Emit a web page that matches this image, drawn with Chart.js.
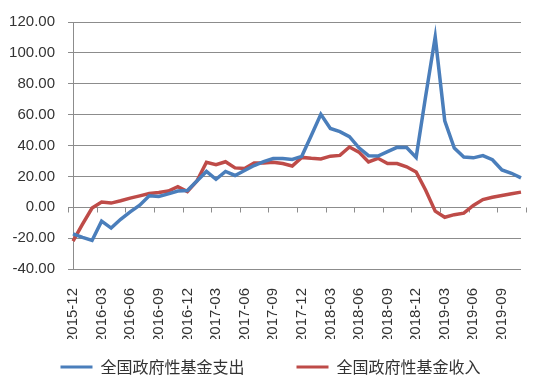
<!DOCTYPE html>
<html>
<head>
<meta charset="utf-8">
<script src="https://cdn.jsdelivr.net/npm/chart.js@4.4.1/dist/chart.umd.min.js"></script>
<style>
    html, body { margin: 0; padding: 0; background: #fff; }
    #wrap { width: 550px; height: 378px; }
</style>
</head>
<body>
<div id="wrap"><canvas id="fundChart"></canvas></div>
<script>
// ===========================
// Data
// ===========================

const months = [
    '2015-12',
    '2016-01', '2016-02', '2016-03', '2016-04', '2016-05', '2016-06',
    '2016-07', '2016-08', '2016-09', '2016-10', '2016-11', '2016-12',
    '2017-01', '2017-02', '2017-03', '2017-04', '2017-05', '2017-06',
    '2017-07', '2017-08', '2017-09', '2017-10', '2017-11', '2017-12',
    '2018-01', '2018-02', '2018-03', '2018-04', '2018-05', '2018-06',
    '2018-07', '2018-08', '2018-09', '2018-10', '2018-11', '2018-12',
    '2019-01', '2019-02', '2019-03', '2019-04', '2019-05', '2019-06',
    '2019-07', '2019-08', '2019-09', '2019-10', '2019-11'
];

// 全国政府性基金支出 (%)
const spending = [
    -17.3,
    -19.5, -21.5, -9.0, -13.5, -7.8, -3.0,
    1.3, 7.4, 7.0, 8.7, 10.5, 10.8,
    17.0, 23.2, 18.1, 23.2, 20.6, 23.8,
    27.0, 29.5, 31.5, 31.5, 31.0, 33.0,
    46.5, 60.2, 51.0, 49.0, 45.7, 38.5,
    33.4, 33.2, 36.0, 38.8, 38.7, 32.3,
    72.0, 110.3, 56.0, 38.3, 32.5, 32.0,
    33.5, 30.8, 24.2, 22.0, 19.0
];

// 全国政府性基金收入 (%)
const revenue = [
    -22.0,
    -11.0, -0.5, 3.4, 2.7, 4.2, 5.9,
    7.4, 8.9, 9.5, 10.5, 13.3, 10.1,
    17.0, 29.1, 27.6, 29.5, 25.5, 25.1,
    28.7, 28.7, 29.2, 28.3, 26.7, 32.3,
    31.7, 31.3, 33.1, 33.6, 39.0, 35.7,
    29.4, 31.7, 28.3, 28.3, 26.2, 22.8,
    11.0, -2.5, -6.5, -4.8, -3.8, 1.2,
    5.0, 6.5, 7.6, 8.8, 9.8
];

const seriesNames = ['全国政府性基金支出', '全国政府性基金收入'];
const yTicks = [-40, -20, 0, 20, 40, 60, 80, 100, 120];
const labelStep = 3;

const BLUE = '#4A7EBB';
const RED = '#BE4B48';
const GRID = '#8C8C8C';
const TEXT = '#333333';

// ===========================
// Zero axis with tick marks (Excel style)
// ===========================

const zeroAxis = {
    id: 'zeroAxis',
    beforeDatasetsDraw(chart) {
        const { ctx, scales: { x, y } } = chart;
        const y0 = Math.round(y.getPixelForValue(0)) + 0.5;
        ctx.save();
        ctx.strokeStyle = GRID;
        ctx.lineWidth = 1;
        ctx.beginPath();
        ctx.moveTo(x.left, y0);
        ctx.lineTo(x.right, y0);
        for (let i = 0; i <= months.length; i += labelStep) {
            const px = Math.round(x.getPixelForValue(i - 0.5)) + 0.5;
            ctx.moveTo(px, y0);
            ctx.lineTo(px, y0 + 5);
        }
        ctx.stroke();
        ctx.restore();
    }
};

// ===========================
// Chart
// ===========================

const ctx = document.getElementById('fundChart');

new Chart(ctx, {
    type: 'line',
    data: {
        labels: months,
        datasets: [{
            label: seriesNames[0],
            data: spending,
            borderColor: BLUE,
            backgroundColor: BLUE,
            borderWidth: 3.5,
            pointRadius: 0,
            tension: 0
        }, {
            label: seriesNames[1],
            data: revenue,
            borderColor: RED,
            backgroundColor: RED,
            borderWidth: 3.5,
            pointRadius: 0,
            tension: 0
        }]
    },
    options: {
        responsive: true,
        maintainAspectRatio: false,
        animation: false,
        layout: {
            padding: { top: 5, right: 9, left: 0, bottom: -7 }
        },
        plugins: {
            legend: {
                display: true,
                position: 'bottom',
                labels: {
                    boxWidth: 32,
                    boxHeight: 3,
                    padding: 20,
                    color: TEXT,
                    font: { family: '"Noto Sans CJK SC", sans-serif', size: 16 },
                    // first entry gets a little trailing room, like the wide gap in the original legend
                    generateLabels: chart => chart.data.datasets.map((ds, i) => ({
                        text: i === 0 ? ds.label + '\u3000\u3000' : ds.label,
                        fillStyle: ds.borderColor,
                        strokeStyle: ds.borderColor,
                        lineWidth: 0,
                        fontColor: TEXT,
                        hidden: false,
                        datasetIndex: i
                    }))
                }
            },
            title: { display: false },
            tooltip: { enabled: false }
        },
        scales: {
            x: {
                grid: { display: false },
                border: { display: false },
                afterFit: scale => { scale.height = 70; },
                ticks: {
                    autoSkip: false,
                    minRotation: 90,
                    maxRotation: 90,
                    padding: 11,
                    color: TEXT,
                    font: { family: '"Liberation Sans", Arial, sans-serif', size: 15 },
                    callback: (value, index) => index % labelStep === 0 ? months[index] : ''
                }
            },
            y: {
                min: yTicks[0],
                max: yTicks[yTicks.length - 1],
                afterBuildTicks: scale => {
                    scale.ticks = yTicks.map(v => ({ value: v }));
                },
                afterFit: scale => { scale.width = 73; },
                grid: {
                    color: GRID,
                    drawTicks: true,
                    tickLength: 5
                },
                border: { display: true, color: GRID },
                ticks: {
                    padding: 13,
                    color: TEXT,
                    font: { family: '"Liberation Sans", Arial, sans-serif', size: 15 },
                    callback: value => value.toFixed(2)
                }
            }
        }
    },
    plugins: [zeroAxis]
});
</script>
</body>
</html>
